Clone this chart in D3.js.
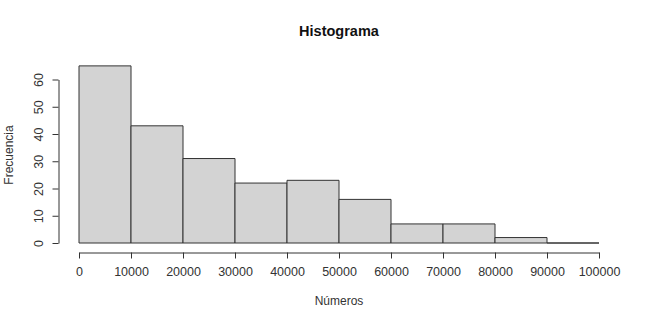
<!DOCTYPE html>
<html>
<head>
<meta charset="utf-8">
<script src="https://cdn.jsdelivr.net/npm/d3@7"></script>
<style>
  body { margin: 0; background: #fff; }
  text { font-family: "Liberation Sans", Arial, sans-serif; }
</style>
</head>
<body>
<svg id="chart"></svg>
<script>
// histogram bins (lower edge) and counts
var binStarts = [0, 10000, 20000, 30000, 40000, 50000, 60000, 70000, 80000, 90000];
var binWidth = 10000;
var counts = [65, 43, 31, 22, 23, 16, 7, 7, 2, 0];
var xTicks = [0, 10000, 20000, 30000, 40000, 50000, 60000, 70000, 80000, 90000, 100000];
var yTicks = [0, 10, 20, 30, 40, 50, 60];

var W = 650, H = 323;
var svg = d3.select("#chart").attr("width", W).attr("height", H);

var x = d3.scaleLinear().domain([0, 100000]).range([79, 599]);
var y = d3.scaleLinear().domain([0, 60]).range([243, 79.5]);

var bins = binStarts.map(function(b, i) { return {x0: b, x1: b + binWidth, n: counts[i]}; });

// bars as closed paths so an empty bin still shows as a flat line
svg.append("g").selectAll("path")
  .data(bins)
  .enter()
  .append("path")
    .attr("d", function(d) {
      var x0 = x(d.x0), x1 = x(d.x1), y0 = y(0), y1 = y(d.n);
      return "M" + x0 + "," + y0 + "V" + y1 + "H" + x1 + "V" + y0 + "Z";
    })
    .attr("fill", "#d3d3d3")
    .attr("stroke", "#333")
    .attr("stroke-width", 1);

// x axis (R style, ticks below)
var xAxis = svg.append("g")
  .attr("transform", "translate(0,252.5)")
  .call(d3.axisBottom(x).tickValues(xTicks).tickFormat(d3.format("d")).tickSize(6).tickSizeOuter(0));
xAxis.selectAll("text").attr("dy", 0).attr("y", 23).attr("font-size", 12.5).attr("fill", "#333");

// y axis
var yAxis = svg.append("g")
  .attr("transform", "translate(58.5,0)")
  .call(d3.axisLeft(y).tickValues(yTicks).tickSize(6).tickSizeOuter(0));
yAxis.selectAll("text")
  .attr("x", null).attr("dy", null)
  .attr("transform", "translate(-20,0) rotate(-90)")
  .attr("text-anchor", "middle")
  .attr("dominant-baseline", "central")
  .attr("font-size", 12.5).attr("fill", "#333");

svg.selectAll(".domain, .tick line").attr("stroke", "#333");

svg.append("text")
  .attr("x", 339).attr("y", 36)
  .attr("text-anchor", "middle")
  .attr("font-size", 14.5).attr("font-weight", "bold").attr("fill", "#111")
  .text("Histograma");

svg.append("text")
  .attr("x", 339).attr("y", 305)
  .attr("text-anchor", "middle")
  .attr("font-size", 12).attr("fill", "#333")
  .text("Números");

svg.append("text")
  .attr("transform", "translate(13,155) rotate(-90)")
  .attr("text-anchor", "middle")
  .attr("font-size", 12).attr("fill", "#333")
  .text("Frecuencia");
</script>
</body>
</html>
